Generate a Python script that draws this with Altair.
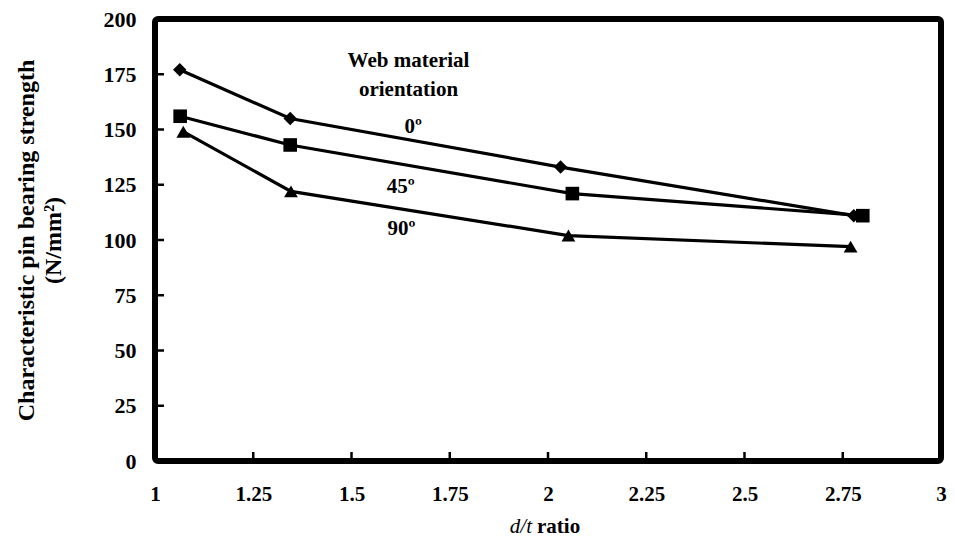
import altair as alt
import pandas as pd

# Data
x_0 = [1.063, 1.344, 2.032, 2.778]
y_0 = [177, 155, 133, 111]
x_45 = [1.064, 1.344, 2.062, 2.801]
y_45 = [156, 143, 121, 111]
x_90 = [1.072, 1.346, 2.052, 2.770]
y_90 = [149, 122, 102, 97]

series_names = ["0", "45", "90"]
shapes = ["diamond", "square", "triangle-up"]

x_ticks = [1, 1.25, 1.5, 1.75, 2, 2.25, 2.5, 2.75, 3]
y_ticks = [0, 25, 50, 75, 100, 125, 150, 175, 200]

ann_text = ["Web material", "orientation", "0º", "45º", "90º"]
ann_x = [1.645, 1.645, 1.657, 1.625, 1.627]
ann_y = [181, 168, 151, 124, 105]

rows = []
for name, xs, ys in zip(series_names, [x_0, x_45, x_90], [y_0, y_45, y_90]):
    for i, (a, b) in enumerate(zip(xs, ys)):
        rows.append({"series": name, "x": a, "y": b, "order": i})
df = pd.DataFrame(rows)

ann = pd.DataFrame({"t": ann_text, "x": ann_x, "y": ann_y})

W, H = 786, 442
FONT = "Liberation Serif"

xs = alt.Scale(domain=[1, 3], nice=False)
ys = alt.Scale(domain=[0, 200], nice=False)

base = alt.Chart(df)

lines = base.mark_line(color="black", strokeWidth=3.2).encode(
    x=alt.X("x:Q", scale=xs,
            axis=alt.Axis(values=x_ticks, title=None, ticks=False, domain=False, grid=False,
                          labelFont=FONT, labelFontSize=21, labelFontWeight="bold",
                          labelColor="black", labelPadding=22, labelFlush=False,
                          labelExpr="format(datum.value, '')")),
    y=alt.Y("y:Q", scale=ys,
            axis=alt.Axis(values=y_ticks, ticks=False, domain=False, grid=False,
                          title=["Characteristic pin bearing strength", "(N/mm²)"],
                          titleFont=FONT, titleFontSize=24, titleFontWeight="bold",
                          titleColor="black", titlePadding=38, titleLineHeight=27,
                          labelFont=FONT, labelFontSize=22, labelFontWeight="bold",
                          labelColor="black", labelPadding=19, labelFlush=False)),
    detail="series:N",
    order="order:Q",
)

points = base.mark_point(filled=True, color="black", opacity=1).encode(
    x=alt.X("x:Q", scale=xs),
    y=alt.Y("y:Q", scale=ys),
    shape=alt.Shape("series:N", scale=alt.Scale(domain=series_names, range=shapes), legend=None),
    size=alt.Size("series:N", scale=alt.Scale(domain=series_names, range=[180, 190, 200]), legend=None),
)

xt = pd.DataFrame({"v": x_ticks[1:-1]})
yt = pd.DataFrame({"v": y_ticks[1:-1]})

xtick_marks = alt.Chart(xt).mark_rule(color="black", strokeWidth=2.5).encode(
    x=alt.X("v:Q", scale=xs), y=alt.value(H), y2=alt.value(H - 9)
)
ytick_marks = alt.Chart(yt).mark_rule(color="black", strokeWidth=2.5).encode(
    y=alt.Y("v:Q", scale=ys), x=alt.value(0), x2=alt.value(9)
)

frame = alt.Chart(pd.DataFrame({"f": [0]})).mark_rect(
    filled=False, stroke="black", strokeWidth=6, cornerRadius=3
).encode(x=alt.value(0), x2=alt.value(W), y=alt.value(0), y2=alt.value(H))

labels = alt.Chart(ann).mark_text(font=FONT, fontSize=21, fontWeight="bold", color="black").encode(
    x=alt.X("x:Q", scale=xs), y=alt.Y("y:Q", scale=ys), text="t:N"
)

xtitle_a = alt.Chart(pd.DataFrame({"t": ["d/t"]})).mark_text(
    font=FONT, fontSize=21, fontStyle="italic", color="black", align="right", baseline="alphabetic"
).encode(x=alt.value(W / 2 - 16), y=alt.value(H + 72), text="t:N")
xtitle_b = alt.Chart(pd.DataFrame({"t": ["ratio"]})).mark_text(
    font=FONT, fontSize=21, fontWeight="bold", color="black", align="left", baseline="alphabetic"
).encode(x=alt.value(W / 2 - 11), y=alt.value(H + 72), text="t:N")

chart = alt.layer(lines, points, xtick_marks, ytick_marks, frame, labels, xtitle_a, xtitle_b).properties(
    width=W, height=H,
    autosize=alt.AutoSizeParams(type="none"),
    padding={"left": 147, "top": 11, "right": 6, "bottom": 79},
).configure(background="white").configure_view(strokeWidth=0)

chart.save("out.html", embed_options={"renderer": "svg", "actions": False})
